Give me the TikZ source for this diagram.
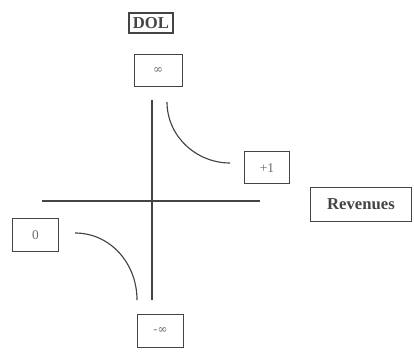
\documentclass[tikz,border=0pt]{standalone}
\usepackage{fontspec}
\setmainfont{Liberation Serif}
\newfontfamily\symfont{DejaVu Serif}
\definecolor{ink}{HTML}{444444}
\definecolor{softink}{HTML}{6A6A6A}
\begin{document}
\begin{tikzpicture}[x=0.75pt,y=-0.75pt,
  labelbox/.style={draw=ink, line width=0.75pt, inner sep=0pt, text=softink, font=\fontsize{10}{11}\selectfont},
  titlebox/.style={draw=ink, line width=0.8pt, inner sep=0pt, text=ink, font=\fontsize{12.5}{14}\selectfont\bfseries},
  axis/.style={draw=ink, line width=0.85pt},
  branch/.style={draw=ink, line width=0.85pt}]
\useasboundingbox (0,0) rectangle (414,356);
% title and axis label boxes
\node[titlebox, minimum width=33pt, minimum height=15pt] (dol) at (151,23) {DOL};
\node[titlebox, minimum width=76pt, minimum height=26pt] (rev) at (361,204.5) {Revenues};
% value boxes
\node[labelbox, minimum width=36pt, minimum height=24pt] (inf) at (158,71) {\symfont\fontsize{9}{10}\selectfont ∞};
\node[labelbox, minimum width=34pt, minimum height=24pt] (plus) at (267,168) {+1};
\node[labelbox, minimum width=35pt, minimum height=25pt] (zero) at (35.5,235) {0\hspace{6pt}};
\node[labelbox, minimum width=35pt, minimum height=25pt] (minf) at (160.5,331) {\symfont\fontsize{9}{10}\selectfont -∞};
% axes
\coordinate (vtop) at (152,100);
\coordinate (vbot) at (152,300);
\coordinate (hl) at (42,201);
\coordinate (hr) at (260,201);
\draw[axis] (vtop) -- (vbot);
\draw[axis] (hl) -- (hr);
% branches of the curve
\coordinate (ua) at (167,102);
\coordinate (ub) at (230,163);
\coordinate (la) at (75,233);
\coordinate (lb) at (137,300);
\draw[branch] (ua) .. controls (167,136) and (196,163) .. (ub);
\draw[branch] (la) .. controls (110,233) and (137,263) .. (lb);
\end{tikzpicture}
\end{document}
